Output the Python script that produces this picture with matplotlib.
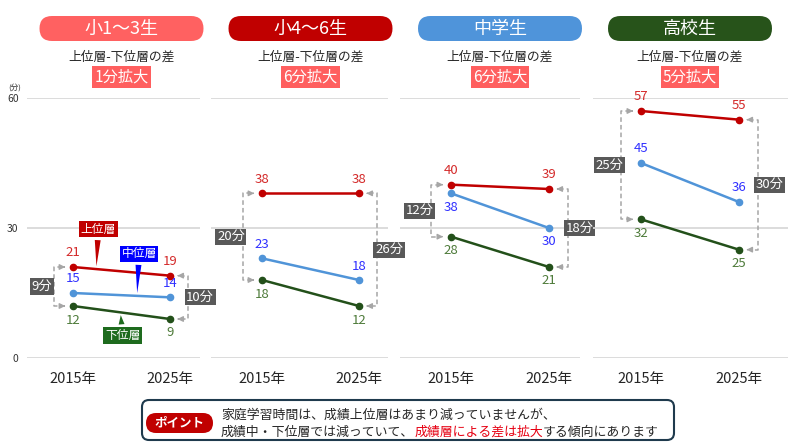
import numpy as np
import matplotlib
matplotlib.use('Agg')
import matplotlib.pyplot as plt
from matplotlib.patches import FancyBboxPatch

plt.rcParams['font.family'] = ['Noto Sans CJK JP', 'DejaVu Sans']

# data (minutes of home study)
grades = ['小1～3生', '小4～6生', '中学生', '高校生']
years = ['2015年', '2025年']
upper = [[21, 19], [38, 38], [40, 39], [57, 55]]
middle = [[15, 14], [23, 18], [38, 30], [45, 36]]
lower = [[12, 9], [18, 12], [28, 21], [32, 25]]

# styles
head_colors = ['#FF6161', '#C00000', '#4F94DA', '#27531A']
line_colors = ['#C00000', '#5094D8', '#23501A']
text_colors = ['#D42A2A', '#3030FF', '#4E7B3A']
mid_label_side = [1, 1, -1, 1]
gray = '#A6A6A6'

W, H = 800, 443
fig = plt.figure(figsize=(8, 4.43), dpi=100)

ov = fig.add_axes([0, 0, 1, 1], zorder=-1)
ov.set_xlim(0, W)
ov.set_ylim(H, 0)
ov.axis('off')

# left, right, x of 2015, x of 2025 (pixels)
panel_px = [(27, 200, 73, 170), (211, 388, 262, 359),
            (400, 580, 451, 549), (593, 788, 641, 739)]
y0, y60 = 358, 98

axes = []
for i, (l, r, xa, xb) in enumerate(panel_px):
    unit = xb - xa
    ax = fig.add_axes([l / W, (H - y0) / H, (r - l) / W, (y0 - y60) / H])
    ax.set_facecolor('none')
    ax.set_xlim((l - xa) / unit, (r - xa) / unit)
    ax.set_ylim(0, 60)
    ax.set_frame_on(False)
    ax.set_xticks([0, 1], years, fontsize=10.5, color='#262626')
    ax.set_yticks([0, 30, 60])
    if i > 0:
        ax.set_yticklabels([])
    ax.tick_params(axis='x', length=0, pad=10)
    ax.tick_params(axis='y', length=0, pad=6, labelsize=7.5, labelcolor='#333333')
    ax.grid(axis='y', color='#D9D9D9', lw=1.3)
    ax.set_axisbelow(True)
    axes.append(ax)

    series = [upper[i], middle[i], lower[i]]
    sides = [1, mid_label_side[i], -1]
    for s, vals in enumerate(series):
        ax.plot([0, 1], vals, color=line_colors[s], lw=1.8, marker='o',
                ms=4.5, clip_on=False, zorder=3)
        for x, v in zip([0, 1], vals):
            ax.annotate(str(v), (x, v), xytext=(0, 14 * sides[s]),
                        textcoords='offset pixels', ha='center', va='center',
                        fontsize=9.5, color=text_colors[s])

    # gap brackets
    for x, d, sign in [(0, -0.2, 1), (1, 0.19, -1)]:
        top, bot = upper[i][x], lower[i][x]
        bx = x + d
        tip = x + d * 0.4
        ax.plot([tip + 0.03 * -sign, bx, bx, tip + 0.03 * -sign], [top, top, bot, bot],
                color=gray, lw=1.1, ls=(0, (3, 2)), clip_on=False, zorder=2)
        for v in (top, bot):
            ax.annotate('', xy=(tip, v), xytext=(tip - 0.04 * sign, v),
                        arrowprops=dict(arrowstyle='-|>', color=gray, lw=1,
                                        mutation_scale=8), annotation_clip=False)
        ax.text(bx - 0.12 * sign, (top + bot) / 2, f'{top - bot}分', ha='center',
                va='center', fontsize=9.5, color='white', zorder=4,
                bbox=dict(boxstyle='square,pad=0.12', fc='#595959', ec='none'))

    # header
    cx = ov.transData.inverted().transform(ax.transData.transform((0.5, 0)))[0]
    ov.add_patch(FancyBboxPatch((cx - 82, 16), 164, 25,
                                boxstyle='round,pad=0,rounding_size=12.5',
                                fc=head_colors[i], ec='none'))
    ov.text(cx, 28.5, grades[i], ha='center', va='center', color='white', fontsize=13)
    ov.text(cx, 57, '上位層-下位層の差', ha='center', va='center', color='#262626',
            fontsize=9.2)
    diff = (upper[i][1] - lower[i][1]) - (upper[i][0] - lower[i][0])
    ov.text(cx, 77, f'{diff}分拡大', ha='center', va='center', color='white',
            fontsize=11, bbox=dict(boxstyle='square,pad=0.15', fc='#FF5F5F', ec='none'))

# y unit label
ov.text(15, 88, '(分)', ha='center', va='center', fontsize=5.5, color='#333333')

# callouts in first panel
ax = axes[0]
callouts = [('上位層', upper[0], 0.24, 40, '#C00000'),
            ('中位層', middle[0], 0.66, 42, '#0000FF'),
            ('下位層', lower[0], 0.49, -23, '#1E6B1E')]
for name, vals, t, dy, c in callouts:
    v = vals[0] + (vals[1] - vals[0]) * t
    ax.annotate(name, (t, v), xytext=(2, dy), textcoords='offset pixels',
                ha='center', va='center', fontsize=8.5, color='white', zorder=5,
                bbox=dict(boxstyle='square,pad=0.15', fc=c, ec='none'),
                arrowprops=dict(arrowstyle='wedge,tail_width=0.5,shrink_factor=0.5',
                                fc=c, ec='none', shrinkB=2))

# bottom note
ov.add_patch(FancyBboxPatch((142, 400), 532, 40, boxstyle='round,pad=0,rounding_size=7',
                            fc='white', ec='#1F3A4D', lw=1.5))
ov.add_patch(FancyBboxPatch((146, 413), 67, 20, boxstyle='round,pad=0,rounding_size=10',
                            fc='#C00000', ec='none'))
ov.text(179.5, 423, 'ポイント', ha='center', va='center', color='white',
        fontsize=9, fontweight='bold')
ov.text(221, 415, '家庭学習時間は、成績上位層はあまり減っていませんが、',
        ha='left', va='center', fontsize=9.3, color='#262626')

renderer = fig.canvas.get_renderer()
x = 221
for part, c in [('成績中・下位層では減っていて、', '#262626'),
                ('成績層による差は拡大', '#E60012'),
                ('する傾向にあります', '#262626')]:
    t = ov.text(x, 432, part, ha='left', va='center', fontsize=9.3, color=c)
    bb = t.get_window_extent(renderer)
    x = ov.transData.inverted().transform((bb.x1, bb.y0))[0]

fig.savefig('out.png', dpi=100)
